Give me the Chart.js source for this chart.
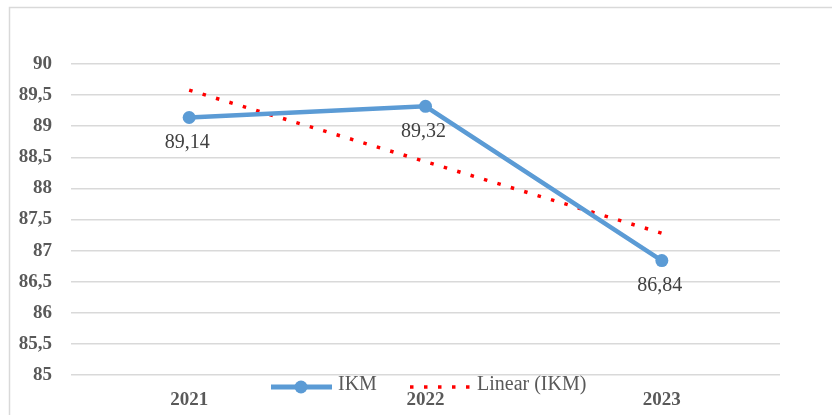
<!DOCTYPE html>
<html>
<head>
<meta charset="utf-8">
<script src="https://cdn.jsdelivr.net/npm/chart.js@4/dist/chart.umd.min.js"></script>
<style>
  html, body { margin: 0; padding: 0; background: #fff; }
  #wrap { width: 832px; height: 415px; }
</style>
</head>
<body>
<div id="wrap"><canvas id="ikm-chart" width="832" height="415"></canvas></div>
<script>
const years = ['2021', '2022', '2023'];
const ikm = [89.14, 89.32, 86.84];
const ikmTrend = [89.58, 88.43, 87.28];
const yMin = 85;
const yMax = 90;
const yStep = 0.5;

const serif = '"Liberation Serif", "Times New Roman", serif';

function comma(v) {
    return String(v).replace('.', ',');
}

// grey frame round the chart, like the original picture
const framePlugin = {
    id: 'frame',
    beforeDraw(chart) {
        const ctx = chart.ctx;
        ctx.save();
        ctx.fillStyle = '#fff';
        ctx.fillRect(0, 0, chart.width, chart.height);
        ctx.strokeStyle = '#d9d9d9';
        ctx.lineWidth = 1.5;
        ctx.strokeRect(9.5, 7.5, chart.width + 20, chart.height + 20);
        ctx.restore();
    }
};

// value labels under each IKM point
const labelPlugin = {
    id: 'valueLabels',
    afterDatasetsDraw(chart) {
        const ctx = chart.ctx;
        const meta = chart.getDatasetMeta(0);
        ctx.save();
        ctx.font = '20px ' + serif;
        ctx.fillStyle = '#404040';
        ctx.textAlign = 'center';
        ctx.textBaseline = 'middle';
        meta.data.forEach((pt, i) => {
            ctx.fillText(comma(ikm[i]), pt.x - 2, pt.y + 25);
        });
        ctx.restore();
    }
};

// legend sits on top of the x labels, so draw it by hand
const legendPlugin = {
    id: 'lowLegend',
    afterDraw(chart) {
        const ctx = chart.ctx;
        const ds = chart.data.datasets;
        const y = 387;
        ctx.save();
        // IKM
        ctx.strokeStyle = ds[0].borderColor;
        ctx.lineWidth = 5;
        ctx.beginPath();
        ctx.moveTo(271, y);
        ctx.lineTo(332, y);
        ctx.stroke();
        ctx.fillStyle = ds[0].borderColor;
        ctx.beginPath();
        ctx.arc(301, y, 6.5, 0, Math.PI * 2);
        ctx.fill();
        ctx.font = '20px ' + serif;
        ctx.fillStyle = '#595959';
        ctx.textBaseline = 'middle';
        ctx.fillText(ds[0].label, 338, y - 2);
        // trend
        ctx.strokeStyle = ds[1].borderColor;
        ctx.lineWidth = ds[1].borderWidth;
        ctx.setLineDash(ds[1].borderDash);
        ctx.beginPath();
        ctx.moveTo(410, y);
        ctx.lineTo(474, y);
        ctx.stroke();
        ctx.setLineDash([]);
        ctx.fillText(ds[1].label, 477, y - 2);
        ctx.restore();
    }
};

new Chart(document.getElementById('ikm-chart').getContext('2d'), {
    type: 'line',
    data: {
        labels: years,
        datasets: [
            {
                label: 'IKM',
                data: ikm,
                borderColor: '#5b9bd5',
                backgroundColor: '#5b9bd5',
                borderWidth: 4.5,
                pointRadius: 6.5,
                pointHoverRadius: 6.5,
                pointBackgroundColor: '#5b9bd5',
                pointBorderWidth: 0,
                tension: 0,
                order: 1
            },
            {
                label: 'Linear (IKM)',
                data: ikmTrend,
                borderColor: '#ff0000',
                borderWidth: 3.5,
                borderDash: [3.5, 10.5],
                pointRadius: 0,
                tension: 0,
                order: 2
            }
        ]
    },
    options: {
        responsive: false,
        animation: false,
        layout: { padding: { left: 0, right: 52, top: 64, bottom: 0 } },
        plugins: {
            legend: { display: false },
            tooltip: { enabled: false }
        },
        scales: {
            x: {
                offset: true,
                grid: { display: false },
                border: { display: false },
                ticks: {
                    color: '#595959',
                    font: { family: serif, size: 19, weight: 'bold' },
                    padding: 6
                },
                afterFit(scale) { scale.height = 40; }
            },
            y: {
                min: yMin,
                max: yMax,
                grid: { color: '#d9d9d9', lineWidth: 1.5, drawTicks: false },
                border: { display: false },
                ticks: {
                    stepSize: yStep,
                    color: '#595959',
                    font: { family: serif, size: 19, weight: 'bold' },
                    padding: 19,
                    callback: v => comma(v)
                },
                afterFit(scale) { scale.width = 71; }
            }
        }
    },
    plugins: [framePlugin, labelPlugin, legendPlugin]
});
</script>
</body>
</html>
